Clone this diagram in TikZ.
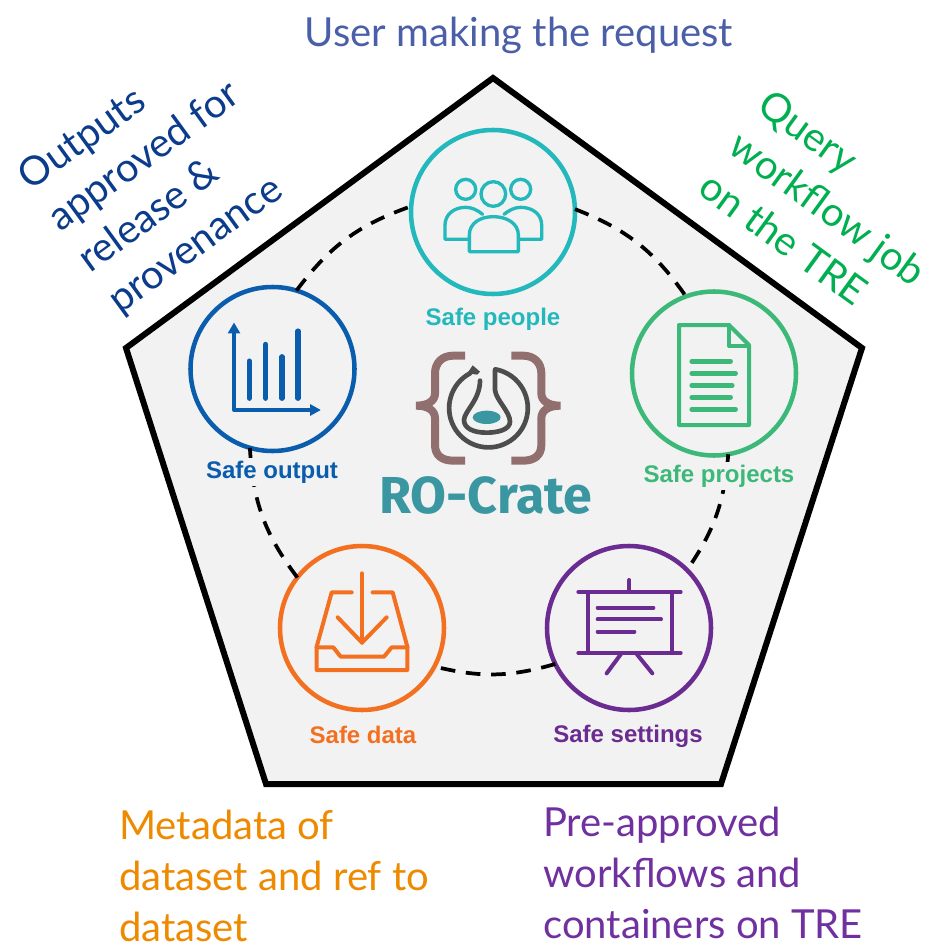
\documentclass[tikz,border=0pt]{standalone}
\usepackage{fontspec}
\setmainfont{Lato}
\newfontfamily\labelfont{Liberation Sans}
\newfontfamily\cratefont{Fira Sans}
\definecolor{bgpanel}{HTML}{F2F2F2}
\definecolor{cpeople}{HTML}{22B8BC}
\definecolor{cproject}{HTML}{3CB878}
\definecolor{coutput}{HTML}{0A5CAD}
\definecolor{cdata}{HTML}{F37021}
\definecolor{csetting}{HTML}{6B2C91}
\definecolor{ctop}{HTML}{4A5FA8}
\definecolor{cout}{HTML}{0B3C8C}
\definecolor{cquery}{HTML}{00B050}
\definecolor{cmeta}{HTML}{EE8A00}
\definecolor{cpre}{HTML}{7030A0}
\definecolor{cbrace}{HTML}{926F6F}
\definecolor{cflask}{HTML}{4D4D4D}
\definecolor{cteal}{HTML}{3A96A0}
\tikzset{
  x=0.75pt,y=-0.75pt,
  iconring/.style={circle,draw=#1,fill=bgpanel,line width=3.4pt,minimum size=123pt,inner sep=0pt,outer sep=0pt},
  ringarc/.style={line width=2.8pt,black,dash pattern=on 11pt off 8pt},
  icon/.style 2 args={shift={(#1,#2)},x=0.25pt,y=-0.25pt,line cap=round,line join=round},
  safelabel/.style={font=\labelfont\bfseries\fontsize{18}{20}\selectfont,text=#1,fill=bgpanel,inner sep=2pt},
  biglabel/.style={font=\fontsize{30}{38}\selectfont,text=#1,inner sep=0pt},
}
\begin{document}
\begin{tikzpicture}
\useasboundingbox (0,0) rectangle (936,952);
\fill[white] (0,0) rectangle (936,952);
\draw[fill=bgpanel,line width=4.5pt,line join=miter] (493,78) -- (862,348) -- (721,784) -- (266,784) -- (126,348) -- cycle;

\node[iconring=cpeople] (people) at (493,212) {};
\node[iconring=cproject] (projects) at (714,373.5) {};
\node[iconring=csetting] (settings) at (629,628) {};
\node[iconring=cdata] (data) at (362,628) {};
\node[iconring=coutput] (output) at (272.5,369) {};

\draw[ringarc] (people.2) to[bend left=17] (projects.110);
\draw[ringarc] (projects.-80) to[bend left=15] (settings.45.5);
\draw[ringarc] (settings.-154) to[bend left=15] (data.-28);
\draw[ringarc] (data.142) to[bend left=17] (output.-106);
\draw[ringarc] (output.73) to[bend left=17] (people.176);

% people icon
\begin{scope}[icon={400}{120},draw=cpeople,line width=2.5pt]
\draw (197,208) circle (30);
\draw (280,222) circle (37);
\draw (362,208) circle (30);
\draw (208,395) -- (355,395) -- (355,345) .. controls (355,310) and (320,290) .. (280,290) .. controls (240,290) and (208,310) .. (208,345) -- cycle;
\draw (248,283) .. controls (232,270) and (215,262) .. (197,262) .. controls (160,262) and (135,285) .. (135,315) -- (135,358) -- (205,358);
\draw (312,283) .. controls (328,270) and (345,262) .. (362,262) .. controls (400,262) and (425,285) .. (425,315) -- (425,358) -- (357,358);
\end{scope}

% projects icon
\begin{scope}[icon={620}{280},draw=cproject,line width=3pt]
\draw (177,135) -- (327,135) -- (387,195) -- (387,435) -- (177,435) -- cycle;
\draw (327,135) -- (327,198) -- (387,198);
\draw[line width=3.4pt] (215,244) -- (332,244) (215,280) -- (347,280) (215,316) -- (337,316) (215,352) -- (332,352) (215,388) -- (347,388);
\end{scope}

% output icon
\begin{scope}[icon={180}{280},draw=coutput,fill=coutput,line width=3pt]
\draw (162,150) -- (162,390) -- (400,390);
\fill (143,160) -- (181,160) -- (162,128) -- cycle;
\fill (390,372) -- (390,408) -- (422,390) -- cycle;
\draw[line width=3.8pt] (208,243) -- (208,355) (257,193) -- (257,355) (306,230) -- (306,355) (354,153) -- (354,355);
\end{scope}

% data icon
\begin{scope}[icon={270}{540},draw=cdata,line width=3pt]
\draw (245,157) -- (185,157) -- (140,320) -- (140,390) -- (412,390) -- (412,320) -- (368,157) -- (308,157);
\draw (140,322) -- (190,322) -- (212,350) -- (342,350) -- (365,322) -- (412,322);
\draw (276,100) -- (276,308);
\draw (203,232) -- (276,308) -- (350,232);
\end{scope}

% settings icon
\begin{scope}[icon={535}{540},draw=csetting,line width=3pt]
\draw (130,156) -- (437,156) (130,339) -- (437,339);
\draw (158,156) -- (158,339) (410,156) -- (410,339);
\draw (283,120) -- (283,156);
\draw (188,203) -- (355,203) (188,238) -- (378,238) (188,275) -- (298,275);
\draw (258,342) -- (215,400) (305,342) -- (352,400);
\end{scope}

% RO-Crate logo
\begin{scope}[icon={370}{340}]
\draw[cbrace,line width=6pt,line cap=butt,line join=miter] (285,47) -- (250,47) .. controls (215,47) and (195,70) .. (195,100) -- (195,160) .. controls (195,182) and (175,197) .. (138,197) .. controls (175,197) and (195,212) .. (195,235) -- (195,315) .. controls (195,345) and (215,362) .. (250,362) -- (285,362);
\draw[cbrace,line width=6pt,line cap=butt,line join=miter] (424,47) -- (459,47) .. controls (494,47) and (514,70) .. (514,100) -- (514,160) .. controls (514,182) and (534,197) .. (571,197) .. controls (534,197) and (514,212) .. (514,235) -- (514,315) .. controls (514,345) and (494,362) .. (459,362) -- (424,362);
\draw[cflask,line width=3.5pt] (300,100) arc[start angle=-118,end angle=-440,radius=118];
\draw[cflask,line width=3.5pt] (375,90) -- (375,150) .. controls (378,180) and (420,215) .. (420,245) .. controls (420,270) and (380,278) .. (350,278) .. controls (310,278) and (282,265) .. (282,240) .. controls (282,215) and (330,180) .. (330,122);
\fill[cflask] (308,76) -- (330,95) -- (322,104) -- (292,100) -- cycle;
\fill[cteal] (350,232) ellipse [x radius=42,y radius=20];
\end{scope}
\node[font=\cratefont\bfseries\fontsize{39}{42}\selectfont,text=cteal,inner sep=0pt] (crate) at (486,495) {RO-Crate};

\node[safelabel=cpeople] (lpeople) at (493,319) {Safe people};
\node[safelabel=cproject] (lprojects) at (719,476) {Safe projects};
\node[safelabel=coutput] (loutput) at (272,472) {Safe output};
\node[safelabel=cdata] (ldata) at (363,735) {Safe data};
\node[safelabel=csetting] (lsettings) at (628,736) {Safe settings};

\node[biglabel=ctop] (request) at (519,35) {User making the request};
\node[biglabel=cout,align=left,rotate=36] (approved) at (160,178) {Outputs\\approved for\\release \&\\provenance};
\node[biglabel=cquery,align=left,rotate=-36] (query) at (828,208) {Query\\workflow job\\on the TRE};
\node[biglabel=cmeta,align=left,anchor=north west] (metadata) at (119,810) {Metadata of\\dataset and ref to\\dataset};
\node[biglabel=cpre,align=left,anchor=north west] (pre) at (543,807) {Pre-approved\\workflows and\\containers on TRE};
\end{tikzpicture}
\end{document}
